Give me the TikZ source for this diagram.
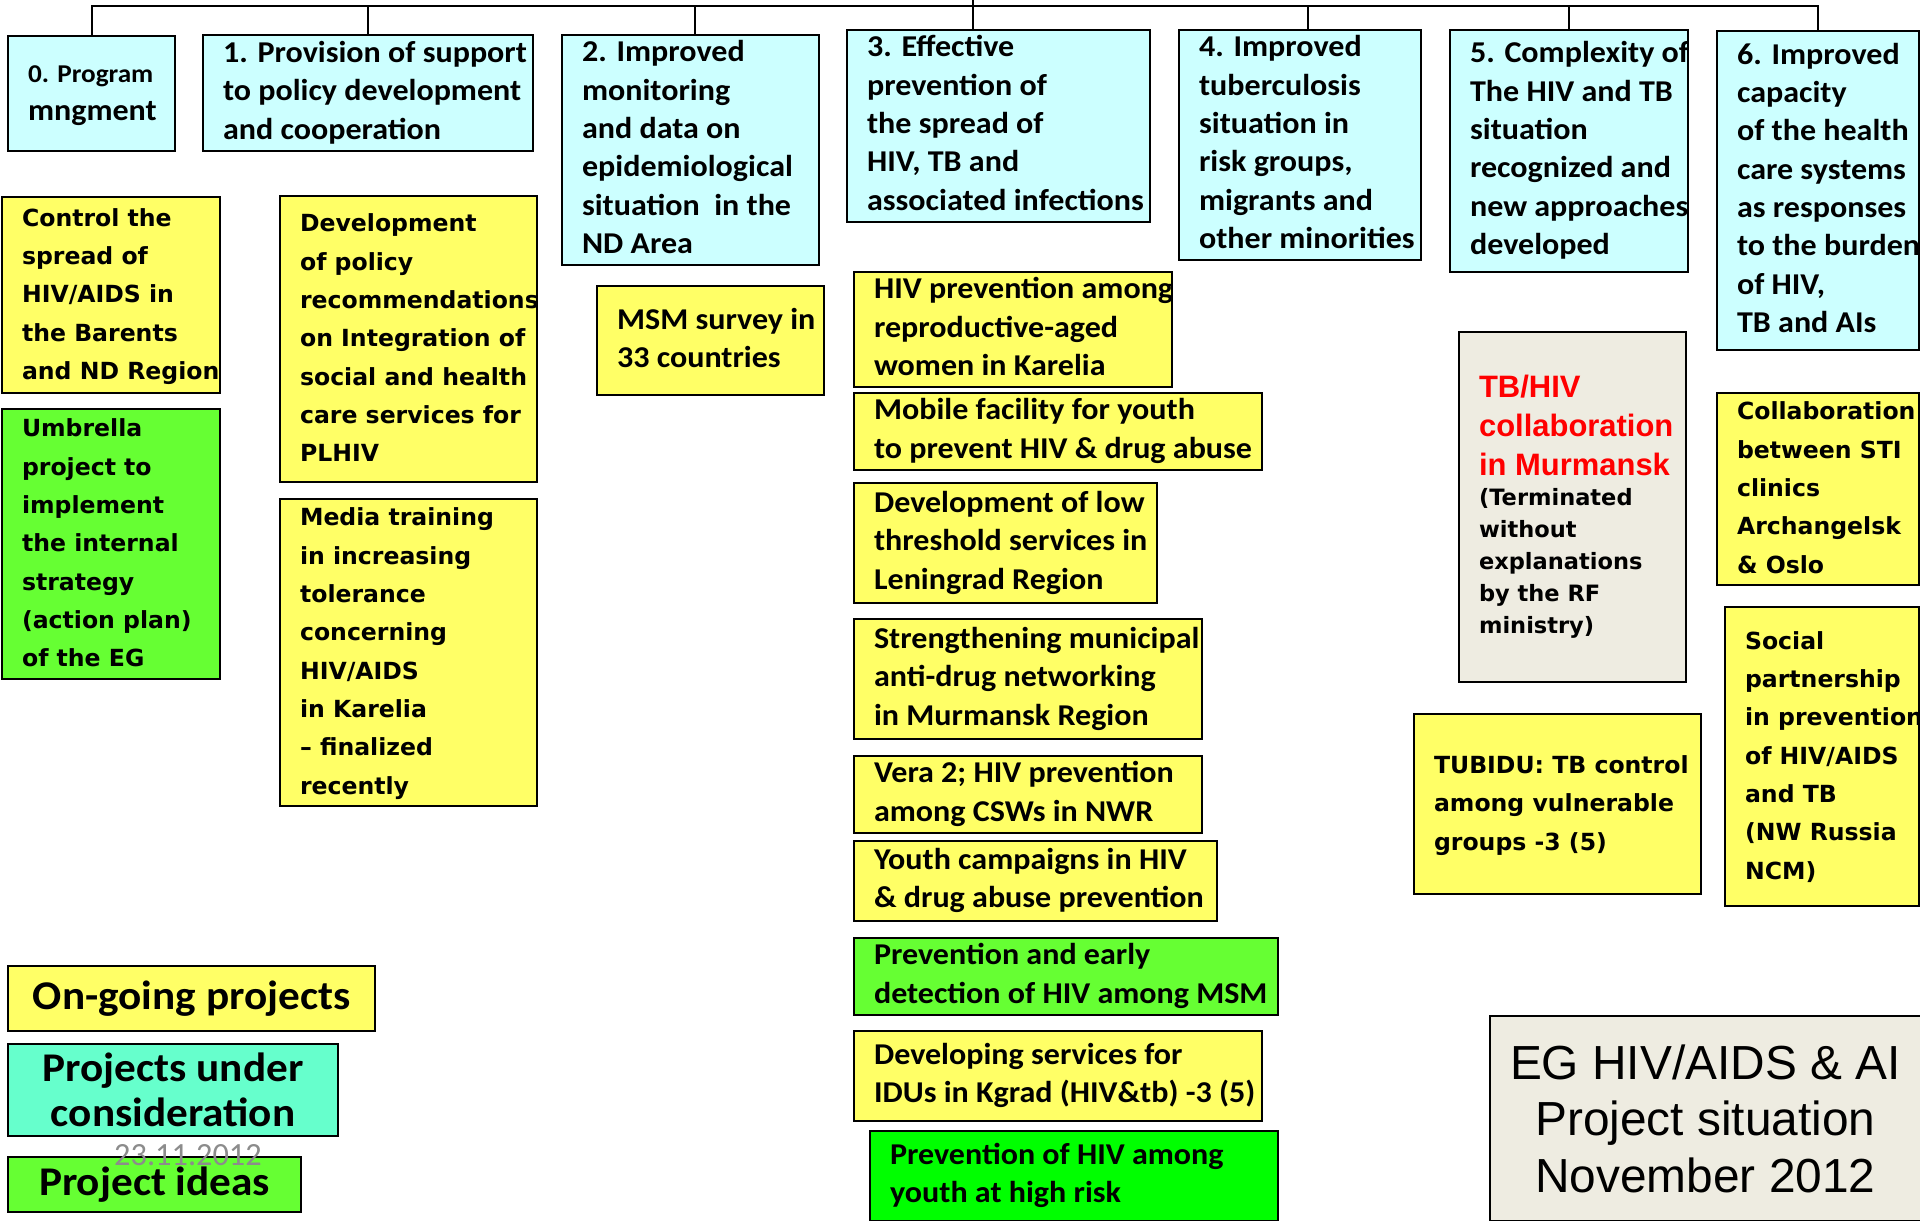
\documentclass[tikz,border=0pt]{standalone}
\usepackage{fontspec}
\setmainfont{Carlito}
\newfontfamily\calfont{Carlito}[FakeStretch=1.06]
\newfontfamily\verfont{DejaVu Sans}
\newfontfamily\arfont{Liberation Sans}
\definecolor{cyanfill}{HTML}{CCFFFF}
\definecolor{yelfill}{HTML}{FFFF66}
\definecolor{grnfill}{HTML}{66FF33}
\definecolor{limefill}{HTML}{00FF00}
\definecolor{aquafill}{HTML}{66FFCC}
\definecolor{greyfill}{HTML}{EEECE1}
\definecolor{datecol}{HTML}{8C8C8C}
% lines of a box, left aligned in a fixed width
\newcommand{\lns}[2]{\makebox[#1][l]{\begin{tabular}{@{}l@{}}#2\end{tabular}}}
\tikzset{
  box/.style={draw, line width=0.6pt, anchor=north west, inner xsep=0.2cm, inner ysep=0pt},
  calib/.style={font=\fontsize{8.6}{10.9}\selectfont\calfont\bfseries},
  verd/.style={font=\fontsize{6.7}{10.9}\selectfont\verfont\bfseries},
  aim/.style={box, calib, fill=cyanfill},
  ongoing/.style={box, fill=yelfill},
  idea/.style={box, fill=grnfill},
  legend/.style={box, align=center, font=\fontsize{11.6}{12.9}\selectfont\calfont\bfseries}
}
\begin{document}
\begin{tikzpicture}[x=0.01cm, y=-0.01cm]
  \useasboundingbox (0,0) rectangle (1920,1221);
  % aims
  \node[aim, minimum width=1.67cm, minimum height=1.15cm] (aim0) at (7,35) {\lns{1.27cm}{{\fontsize{7.3}{9}\selectfont 0. Program}\\mngment}};
  \node[aim, minimum width=3.30cm, minimum height=1.16cm] (aim1) at (202,34) {\lns{2.90cm}{1. Provision of support\\to policy development\\and cooperation}};
  \node[aim, minimum width=2.57cm, minimum height=2.22cm] (aim2) at (561,34) {\lns{2.17cm}{2. Improved\\monitoring\\and data on\\epidemiological\\situation\ \ in the\\ND Area}};
  \node[aim, minimum width=3.03cm, minimum height=1.82cm] (aim3) at (846,29) {\lns{2.63cm}{3. Effective\\prevention of\\the spread of\\HIV, TB and\\associated infections}};
  \node[aim, minimum width=2.42cm, minimum height=2.27cm] (aim4) at (1178,29) {\lns{2.02cm}{4. Improved\\tuberculosis\\situation in\\risk groups,\\migrants and\\other minorities}};
  \node[aim, minimum width=2.38cm, minimum height=2.42cm] (aim5) at (1449,29) {\lns{1.98cm}{5. Complexity of\\The HIV and TB\\situation\\recognized and\\new approaches\\developed}};
  \node[aim, minimum width=2.02cm, minimum height=3.19cm] (aim6) at (1716,30) {\lns{1.62cm}{6. Improved\\capacity\\of the health\\care systems\\as responses\\to the burden\\of HIV,\\TB and AIs}};
  % tree lines
  \coordinate (root) at (973,0);
  \coordinate (bus) at (973,6);
  \draw[line width=0.6pt] (aim0.north) |- (bus) -| (aim6.north);
  \draw[line width=0.6pt] (root) -- (root |- aim3.north);
  \draw[line width=0.6pt] (aim1.north) -- (aim1.north |- bus);
  \draw[line width=0.6pt] ([xshift=0.04cm]aim2.north) -- ([xshift=0.04cm]aim2.north |- bus);
  \draw[line width=0.6pt] ([xshift=0.08cm]aim4.north) -- ([xshift=0.08cm]aim4.north |- bus);
  \draw[line width=0.6pt] (aim5.north) -- (aim5.north |- bus);
  % aim 0
  \node[ongoing, verd, minimum width=2.18cm, minimum height=1.96cm] (ctrl) at (1,196) {\lns{1.78cm}{Control the\\spread of\\HIV/AIDS in\\the Barents\\and ND Region}};
  \node[idea, verd, minimum width=2.18cm, minimum height=2.70cm] (umbr) at (1,408) {\lns{1.78cm}{Umbrella\\project to\\implement\\the internal\\strategy\\(action plan)\\of the EG}};
  % aim 1
  \node[ongoing, verd, minimum width=2.57cm, minimum height=2.86cm] (polrec) at (279,195) {\lns{2.17cm}{Development\\of policy\\recommendations\\on Integration of\\social and health\\care services for\\PLHIV}};
  \node[ongoing, verd, minimum width=2.57cm, minimum height=3.02cm] (media) at (279,498) {\lns{2.17cm}{Media training\\in increasing\\tolerance\\concerning\\HIV/AIDS\\in Karelia\\\textendash{} finalized\\recently}};
  % aim 2
  \node[ongoing, calib, minimum width=2.27cm, minimum height=1.09cm] (msm) at (596,285) {\lns{1.87cm}{MSM survey in\\33 countries}};
  % aim 3
  \node[ongoing, calib, minimum width=3.18cm, minimum height=1.05cm] (women) at (853,271) {\lns{2.78cm}{HIV prevention among\\reproductive-aged\\women in Karelia}};
  \node[ongoing, calib, minimum width=4.08cm, minimum height=0.75cm] (mobile) at (853,392) {\lns{3.68cm}{Mobile facility for youth\\to prevent HIV \& drug abuse}};
  \node[ongoing, calib, minimum width=3.03cm, minimum height=1.20cm] (lowthr) at (853,482) {\lns{2.63cm}{Development of low\\threshold services in\\Leningrad Region}};
  \node[ongoing, calib, minimum width=3.48cm, minimum height=1.20cm] (murm) at (853,618) {\lns{3.08cm}{Strengthening municipal\\anti-drug networking\\in Murmansk Region}};
  \node[ongoing, calib, minimum width=3.48cm, minimum height=0.74cm] (vera) at (853,755) {\lns{3.08cm}{Vera 2; HIV prevention\\among CSWs in NWR}};
  \node[ongoing, calib, minimum width=3.63cm, minimum height=0.80cm] (youth) at (853,840) {\lns{3.23cm}{Youth campaigns in HIV\\\& drug abuse prevention}};
  \node[idea, calib, minimum width=4.24cm, minimum height=0.74cm] (msmdet) at (853,937) {\lns{3.84cm}{Prevention and early\\detection of HIV among MSM}};
  \node[ongoing, calib, minimum width=4.08cm, minimum height=0.90cm] (idu) at (853,1030) {\lns{3.68cm}{Developing services for\\IDUs in Kgrad (HIV\&tb) -3 (5)}};
  \node[box, calib, fill=limefill, minimum width=4.08cm, minimum height=0.90cm] (risk) at (869,1130) {\lns{3.68cm}{Prevention of HIV among\\youth at high risk}};
  % aim 5
  \node[box, fill=greyfill, minimum width=2.27cm, minimum height=3.50cm] (tbhiv) at (1458,331) {\lns{1.87cm}{{\color{red}\fontsize{8.8}{11}\selectfont\arfont\bfseries\begin{tabular}{@{}l@{}}TB/HIV\\collaboration\\in Murmansk\end{tabular}}\\[-1pt]
    {\fontsize{6.4}{9.1}\selectfont\verfont\bfseries\begin{tabular}{@{}l@{}}(Terminated\\without\\explanations\\by the RF\\ministry)\end{tabular}}}};
  \node[ongoing, verd, minimum width=2.87cm, minimum height=1.80cm] (tubidu) at (1413,713) {\lns{2.47cm}{TUBIDU: TB control\\among vulnerable\\groups -3 (5)}};
  % aim 6
  \node[ongoing, verd, minimum width=2.02cm, minimum height=1.80cm] (sti) at (1716,392) {\lns{1.62cm}{Collaboration\\between STI\\clinics\\Archangelsk\\\& Oslo}};
  \node[ongoing, verd, minimum width=1.94cm, minimum height=2.99cm] (social) at (1724,606) {\lns{1.54cm}{Social\\partnership\\in prevention\\of HIV/AIDS\\and TB\\(NW Russia\\NCM)}};
  % title
  \node[box, fill=greyfill, align=center, font=\fontsize{13.6}{16.1}\selectfont\arfont, minimum width=4.29cm, minimum height=2.05cm] (title) at (1489,1015) {EG HIV/AIDS \& AI\\Project situation\\November 2012};
  % legend
  \node[legend, fill=yelfill, minimum width=3.67cm, minimum height=0.65cm] (leg1) at (7,965) {On-going projects};
  \node[legend, fill=aquafill, minimum width=3.30cm, minimum height=0.92cm] (leg2) at (7,1043) {Projects under\\consideration};
  \node[legend, fill=grnfill, minimum width=2.93cm, minimum height=0.55cm] (leg3) at (7,1156) {Project ideas};
  \node[text=datecol, font=\fontsize{9.2}{11}\selectfont, inner sep=0pt] (date) at (188,1155) {23.11.2012};
\end{tikzpicture}
\end{document}
